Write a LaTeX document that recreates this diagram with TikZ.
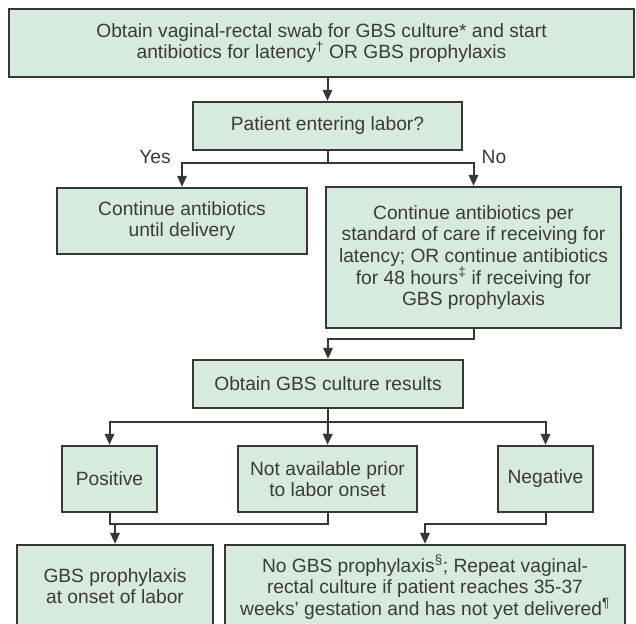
\documentclass[tikz,border=0pt]{standalone}
\usepackage{fontspec}
\setmainfont{Liberation Sans}
\usetikzlibrary{arrows.meta, positioning}

\definecolor{boxfill}{RGB}{214,235,221}
\definecolor{boxline}{RGB}{55,55,55}
\definecolor{boxtext}{RGB}{58,58,58}

\begin{document}
\begin{tikzpicture}[x=1pt, y=-1pt,
  box/.style={draw=boxline, fill=boxfill, line width=2.4pt, align=center, inner sep=2pt,
    text=boxtext, font=\fontsize{19.2}{21.6}\selectfont},
  line/.style={draw=boxline, line width=2pt},
  arr/.style={line, -{Triangle[length=11pt, width=9.5pt]}},
  branch/.style={text=boxtext, font=\fontsize{19.2}{21.6}\selectfont, inner sep=0pt},
]
\clip (0,0) rectangle (636,623);

% first steps
\node[box, minimum width=625, minimum height=68] (swab) at (321.5,43)
  {Obtain vaginal-rectal swab for GBS culture* and start\\
   antibiotics for latency\textsuperscript{†} OR GBS prophylaxis};
\node[box, minimum width=269, minimum height=48] (labor) at (327.5,126) {Patient entering labor?};

\node[box, minimum width=250, minimum height=66] (cont) at (182,221)
  {Continue antibiotics\\ until delivery};
\node[box, minimum width=295, minimum height=141] (perstd) at (473.5,257.5)
  {Continue antibiotics per\\ standard of care if receiving for\\
   latency; OR continue antibiotics\\ for 48 hours\textsuperscript{‡} if receiving for\\ GBS prophylaxis};

\node[box, minimum width=270, minimum height=48] (results) at (328,384) {Obtain GBS culture results};

% culture outcomes
\node[box, minimum width=95, minimum height=66] (pos) at (109.5,479) {Positive};
\node[box, minimum width=179, minimum height=66] (na) at (327.5,479) {Not available prior\\ to labor onset};
\node[box, minimum width=95, minimum height=66] (neg) at (545.5,479) {Negative};

\node[box, minimum width=196, minimum height=82] (gbsp) at (115,586)
  {GBS prophylaxis\\ at onset of labor};
\node[box, minimum width=400, minimum height=84] (nogbs) at (425,587)
  {No GBS prophylaxis\textsuperscript{§}; Repeat vaginal-\\
   rectal culture if patient reaches 35-37\\
   weeks’ gestation and has not yet delivered\textsuperscript{¶}};

% connectors
\draw[arr] (labor.north |- swab.south) -- (labor.north);

\coordinate (split1) at (327.5,163);
\draw[line] (labor.south) -- (split1);
\draw[arr] (split1) -| (cont.north);
\draw[arr] (split1) -| (perstd.north);
\node[branch] (yes) at (155,157) {Yes};
\node[branch] (no) at (494,157) {No};

\draw[arr] (perstd.south) -- ++(0,10) -| (results.north);

\coordinate (split2) at (328,422);
\draw[line] (results.south) -- (split2);
\draw[arr] (split2) -| (pos.north);
\draw[arr] (split2) -- (na.north);
\draw[arr] (split2) -| (neg.north);

\coordinate (join1) at (115,523);
\draw[line] (pos.south) -- ++(0,11) -| (na.south);
\draw[arr] (join1) -- (gbsp.north);
\draw[arr] (neg.south) -- ++(0,11) -| (nogbs.north);

\end{tikzpicture}
\end{document}
